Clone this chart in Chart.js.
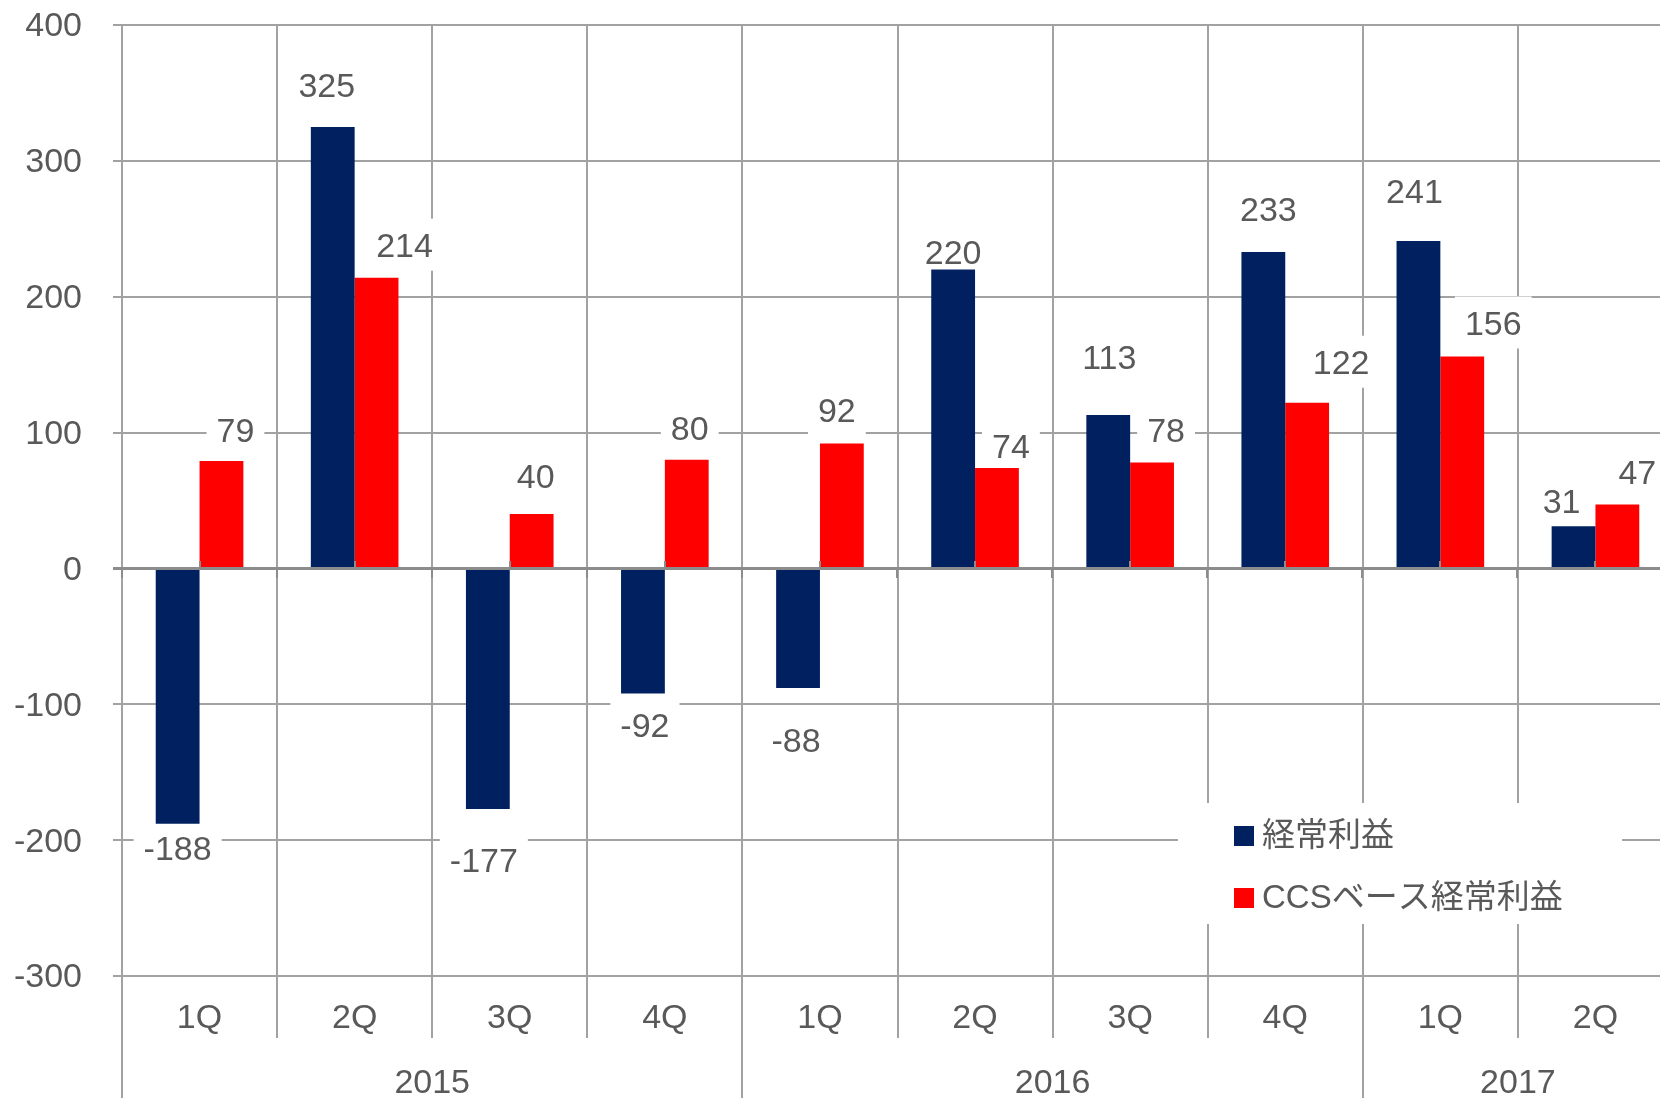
<!DOCTYPE html>
<html>
<head>
<meta charset="utf-8">
<script src="https://cdn.jsdelivr.net/npm/chart.js@4.4.1/dist/chart.umd.min.js"></script>
<style>
  html, body { margin: 0; padding: 0; overflow: hidden; background: #ffffff; width: 1660px; height: 1098px; }
  #wrap { position: absolute; left: 0; top: 0; width: 1676px; height: 1098px; }
</style>
</head>
<body>
<div id="wrap"><canvas id="c" width="1676" height="1098"></canvas></div>
<script>
// ---------------- data ----------------
const quarters = ['1Q', '2Q', '3Q', '4Q', '1Q', '2Q', '3Q', '4Q', '1Q', '2Q'];
const years = ['2015', '2016', '2017'];
const quartersPerYear = [4, 4, 2];
const seriesNames = ['経常利益', 'CCSベース経常利益'];
const ordinaryProfit = [-188, 325, -177, -92, -88, 220, 113, 233, 241, 31];
const ccsOrdinaryProfit = [79, 214, 40, 80, 92, 74, 78, 122, 156, 47];
const yMin = -300, yMax = 400, yStep = 100;

// ---------------- styling ----------------
const NAVY = '#002060', RED = '#ff0000';
const GRID = '#a2a2a2', AXIS = '#8c8c8c', TEXT = '#595959';
const FONT = "'Liberation Sans', Arial, 'Noto Sans CJK JP', sans-serif";

// label nudges (px) relative to bar end, as placed in the original: [dx, distance from bar end]
const labelNudge = [
  [[0, 24], [-6, 42], [-4, 51], [2, 31], [-2, 52], [0, 18], [1, 58], [5, 43], [-4, 50], [-12, 26]],
  [[14, 31], [28, 33], [4, 38], [3, 32], [-5, 34], [14, 22], [14, 33], [34, 41], [31, 34], [20, 33]]
];

function labelBoxes(chart, cb) {
  const ctx = chart.ctx;
  ctx.font = '34px ' + FONT;
  chart.data.datasets.forEach((ds, di) => {
    const meta = chart.getDatasetMeta(di);
    meta.data.forEach((bar, i) => {
      const v = ds.data[i];
      const [dx, dd] = labelNudge[di][i];
      const lx = bar.x + dx;
      const ly = v >= 0 ? bar.y - dd : bar.y + dd;
      const txt = String(v);
      const w = ctx.measureText(txt).width + 20;
      cb(txt, lx, ly, w, 52);
    });
  });
}

const overlay = {
  id: 'overlay',
  beforeDatasetsDraw(chart) {
    const ctx = chart.ctx;
    ctx.save();
    ctx.fillStyle = '#ffffff';
    labelBoxes(chart, (txt, lx, ly, w, h) => ctx.fillRect(lx - w / 2, ly - h / 2, w, h));
    ctx.fillRect(1178, 803, 444, 121);
    ctx.restore();
  },
  afterDatasetsDraw(chart) {
    const { ctx, chartArea: a, scales: { x, y } } = chart;
    const y0 = Math.round(y.getPixelForValue(0));
    const n = quarters.length;
    const cw = (a.right - a.left) / n;
    ctx.save();
    ctx.strokeStyle = AXIS;
    ctx.lineWidth = 3;
    ctx.beginPath(); ctx.moveTo(a.left - 9, y0 + 0.5); ctx.lineTo(a.right, y0 + 0.5); ctx.stroke();
    ctx.lineWidth = 2;
    for (let i = 0; i < n; i++) {
      const cx = Math.round(x.getPixelForValue(i));
      ctx.beginPath(); ctx.moveTo(cx, y0); ctx.lineTo(cx, y0 - 7); ctx.stroke();
      const bx = Math.round(cx - cw / 2);
      ctx.beginPath(); ctx.moveTo(bx, y0); ctx.lineTo(bx, y0 + 10); ctx.stroke();
    }
    ctx.textAlign = 'center';
    ctx.textBaseline = 'middle';
    ctx.fillStyle = TEXT;
    labelBoxes(chart, (txt, lx, ly) => ctx.fillText(txt, lx, ly + 3));
    ctx.textAlign = 'left';
    ctx.font = '33px ' + FONT;
    const rowY = [836, 898];
    chart.data.datasets.forEach((ds, di) => {
      ctx.fillStyle = ds.backgroundColor;
      ctx.fillRect(1234, rowY[di] - 10, 20, 20);
      ctx.fillStyle = TEXT;
      ctx.fillText(ds.label, 1262, rowY[di] + 1);
    });
    ctx.restore();
  },
  afterDraw(chart) {
    const { ctx, chartArea: a } = chart;
    const n = quarters.length;
    const cw = (a.right - a.left) / n;
    const H = chart.height;
    ctx.save();
    const yearStarts = [0];
    quartersPerYear.forEach((q, k) => yearStarts.push(yearStarts[k] + q));
    ctx.strokeStyle = GRID;
    ctx.lineWidth = 2;
    for (let k = 0; k <= n; k++) {
      const bx = Math.round(a.left + k * cw);
      const isYear = yearStarts.includes(k);
      ctx.beginPath();
      ctx.moveTo(bx, a.bottom);
      ctx.lineTo(bx, isYear ? H : 1038);
      ctx.stroke();
    }
    ctx.font = '34px ' + FONT;
    ctx.fillStyle = TEXT;
    ctx.textAlign = 'center';
    ctx.textBaseline = 'middle';
    years.forEach((yr, k) => {
      const x1 = a.left + yearStarts[k] * cw;
      const x2 = a.left + yearStarts[k + 1] * cw;
      ctx.fillText(yr, (x1 + x2) / 2, 1084);
    });
    ctx.restore();
  }
};

new Chart(document.getElementById('c'), {
  type: 'bar',
  data: {
    labels: quarters,
    datasets: [
      { label: seriesNames[0], data: ordinaryProfit, backgroundColor: NAVY, borderWidth: 0 },
      { label: seriesNames[1], data: ccsOrdinaryProfit, backgroundColor: RED, borderWidth: 0 }
    ]
  },
  options: {
    responsive: false,
    devicePixelRatio: 1,
    animation: false,
    layout: { autoPadding: false, padding: { left: 0, right: 3, top: 25, bottom: 0 } },
    datasets: { bar: { barPercentage: 1, categoryPercentage: 0.565 } },
    plugins: { legend: { display: false }, tooltip: { enabled: false } },
    scales: {
      x: {
        offset: true,
        afterFit(s) { s.height = 122; s.paddingLeft = 0; s.paddingRight = 0; },
        grid: { offset: true, color: GRID, lineWidth: 2, drawTicks: false },
        border: { display: false },
        ticks: { color: TEXT, font: { family: FONT, size: 34 }, padding: 22, maxRotation: 0, autoSkip: false }
      },
      y: {
        min: yMin, max: yMax,
        afterFit(s) { s.width = 122; s.paddingTop = 0; s.paddingBottom = 0; },
        grid: {
          color: (c) => (c.tick && c.tick.value === 0 ? AXIS : GRID),
          lineWidth: (c) => (c.tick && c.tick.value === 0 ? 3 : 2),
          tickLength: 9, drawTicks: true
        },
        border: { display: false },
        ticks: { stepSize: yStep, color: TEXT, font: { family: FONT, size: 34 }, padding: 31, labelOffset: 2,
                 callback: (v) => String(v) }
      }
    }
  },
  plugins: [overlay]
});
</script>
</body>
</html>
